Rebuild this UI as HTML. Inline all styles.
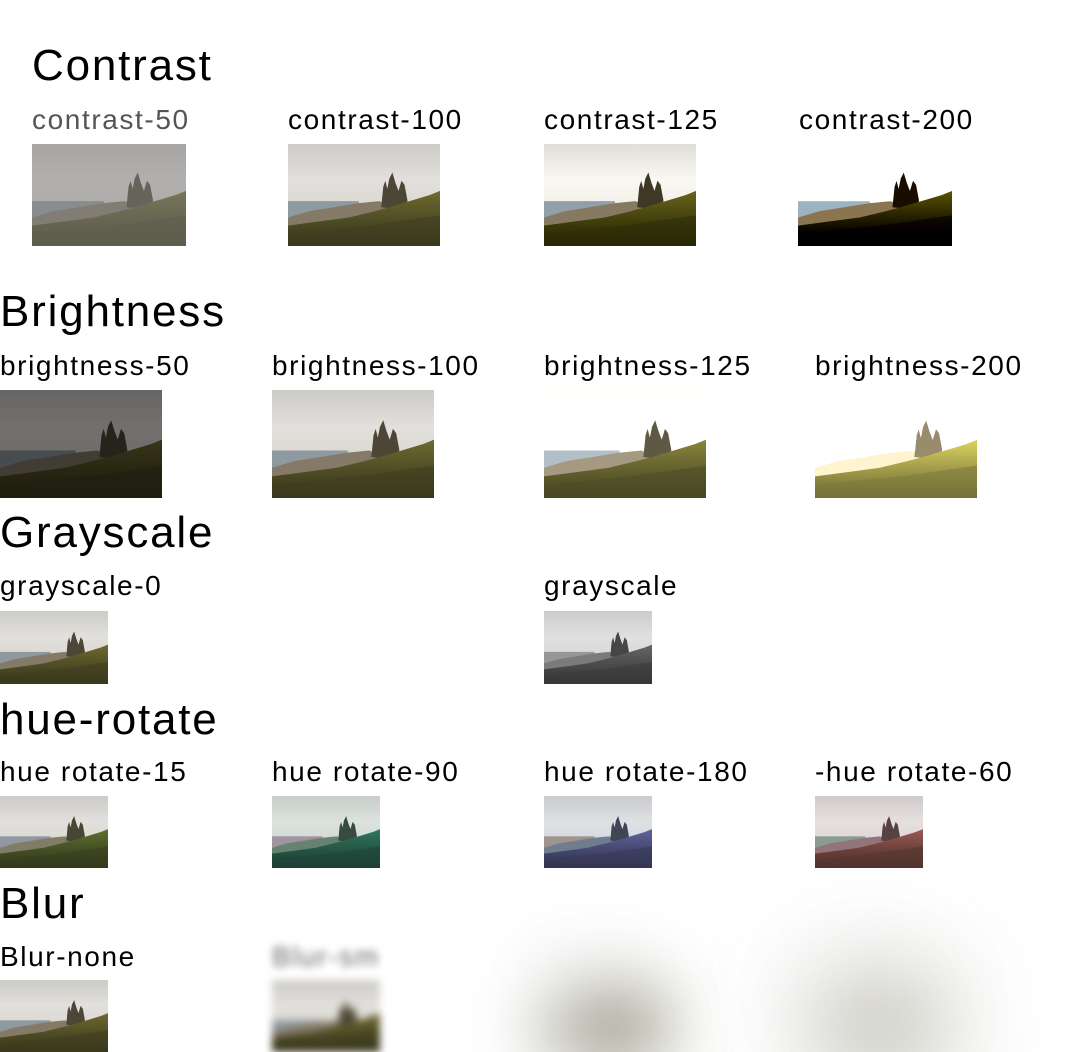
<!DOCTYPE html>
<html><head><meta charset="utf-8">
<style>
html,body{margin:0;padding:0;background:#fff;width:1086px;height:1052px;overflow:hidden;position:relative;font-family:"Liberation Sans",sans-serif;color:#000}
.h{position:absolute;font-size:44px;line-height:1;margin:0;font-weight:normal;letter-spacing:1.8px}
.l{position:absolute;font-size:28px;line-height:1;white-space:nowrap;letter-spacing:1.6px}
.im{position:absolute;display:block}
.im svg{display:block;width:100%;height:100%}
</style></head><body>
<svg width="0" height="0" style="position:absolute">
<defs>
<linearGradient id="sky" x1="0" y1="0" x2="0" y2="1">
<stop offset="0" stop-color="#cdcbc7"/><stop offset="0.35" stop-color="#e2e0dc"/><stop offset="0.6" stop-color="#dcd9d3"/></linearGradient>
<linearGradient id="gr" x1="0" y1="0" x2="0" y2="1">
<stop offset="0" stop-color="#6e6a30"/><stop offset="1" stop-color="#33321a"/></linearGradient>
<symbol id="land" viewBox="0 0 150 100" preserveAspectRatio="none">
<rect width="150" height="100" fill="url(#sky)"/>
<rect x="0" y="56" width="70" height="16" fill="#8e99a0"/>
<path d="M0,72 L20,66 L45,62 L70,58 L90,56 L100,60 L150,62 V100 H0Z" fill="#857a68"/>
<path d="M92,62 L94,42 L96,36 L98,44 L100,34 L103,28 L106,38 L109,46 L112,36 L115,40 L118,56 L110,64Z" fill="#4c4636"/>
<path d="M0,80 L30,76 L60,72 L85,66 L100,62 L120,56 L140,50 L150,46 V100 H0Z" fill="url(#gr)"/>
<path d="M0,88 L40,84 L80,80 L150,70 V100 H0Z" fill="#3f3d20" opacity="0.6"/>
</symbol>
</defs></svg>

<h1 class="h" style="left:32px;top:44px">Contrast</h1>
<div class="l" style="left:32px;top:106px;color:#555">contrast-50</div>
<div class="l" style="left:288px;top:106px">contrast-100</div>
<div class="l" style="left:544px;top:106px">contrast-125</div>
<div class="l" style="left:799px;top:106px">contrast-200</div>
<div class="im" style="left:32px;top:144px;width:154px;height:102px;filter:contrast(.5)"><svg><use href="#land"/></svg></div>
<div class="im" style="left:288px;top:144px;width:152px;height:102px"><svg><use href="#land"/></svg></div>
<div class="im" style="left:544px;top:144px;width:152px;height:102px;filter:contrast(1.25)"><svg><use href="#land"/></svg></div>
<div class="im" style="left:798px;top:144px;width:154px;height:102px;filter:contrast(2)"><svg><use href="#land"/></svg></div>

<h1 class="h" style="left:0;top:290px">Brightness</h1>
<div class="l" style="left:0;top:352px">brightness-50</div>
<div class="l" style="left:272px;top:352px">brightness-100</div>
<div class="l" style="left:544px;top:352px">brightness-125</div>
<div class="l" style="left:815px;top:352px">brightness-200</div>
<div class="im" style="left:0;top:390px;width:162px;height:108px;filter:brightness(.5)"><svg><use href="#land"/></svg></div>
<div class="im" style="left:272px;top:390px;width:162px;height:108px"><svg><use href="#land"/></svg></div>
<div class="im" style="left:544px;top:390px;width:162px;height:108px;filter:brightness(1.25)"><svg><use href="#land"/></svg></div>
<div class="im" style="left:815px;top:390px;width:162px;height:108px;filter:brightness(2)"><svg><use href="#land"/></svg></div>

<h1 class="h" style="left:0;top:511px">Grayscale</h1>
<div class="l" style="left:0;top:572px">grayscale-0</div>
<div class="l" style="left:544px;top:572px">grayscale</div>
<div class="im" style="left:0;top:611px;width:108px;height:73px"><svg><use href="#land"/></svg></div>
<div class="im" style="left:544px;top:611px;width:108px;height:73px;filter:grayscale(1)"><svg><use href="#land"/></svg></div>

<h1 class="h" style="left:0;top:698px">hue-rotate</h1>
<div class="l" style="left:0;top:758px">hue rotate-15</div>
<div class="l" style="left:272px;top:758px">hue rotate-90</div>
<div class="l" style="left:544px;top:758px">hue rotate-180</div>
<div class="l" style="left:815px;top:758px">-hue rotate-60</div>
<div class="im" style="left:0;top:796px;width:108px;height:72px;filter:hue-rotate(15deg)"><svg><use href="#land"/></svg></div>
<div class="im" style="left:272px;top:796px;width:108px;height:72px;filter:hue-rotate(90deg)"><svg><use href="#land"/></svg></div>
<div class="im" style="left:544px;top:796px;width:108px;height:72px;filter:hue-rotate(180deg)"><svg><use href="#land"/></svg></div>
<div class="im" style="left:815px;top:796px;width:108px;height:72px;filter:hue-rotate(-60deg)"><svg><use href="#land"/></svg></div>

<h1 class="h" style="left:0;top:882px">Blur</h1>
<div class="l" style="left:0;top:943px">Blur-none</div>
<div class="im" style="left:0;top:980px;width:108px;height:72px"><svg><use href="#land"/></svg></div>
<div style="position:absolute;left:272px;top:940px;width:120px;height:112px;filter:blur(4px)">
<div class="l" style="left:0;top:3px;color:#666">Blur-sm</div>
<div class="im" style="left:0;top:40px;width:108px;height:72px"><svg><use href="#land"/></svg></div></div>
<div style="position:absolute;left:544px;top:940px;width:210px;height:112px;filter:blur(36px);opacity:.85">
<div class="l" style="left:0;top:3px;color:#ddd">Blur-lg</div>
<div class="im" style="left:0;top:30px;width:120px;height:82px"><svg><use href="#land"/></svg></div></div>
<div style="position:absolute;left:815px;top:940px;width:210px;height:112px;filter:blur(52px);opacity:.85">
<div class="l" style="left:0;top:3px;color:#ddd">Blur-xl</div>
<div class="im" style="left:0;top:30px;width:120px;height:82px"><svg><use href="#land"/></svg></div></div>
</body></html>
